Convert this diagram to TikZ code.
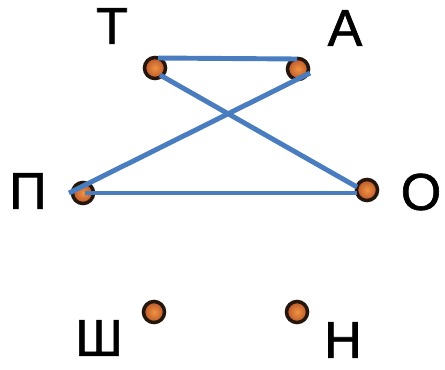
\documentclass[tikz,border=0pt]{standalone}
\usepackage{fontspec}
\setmainfont[FakeBold=1.2]{Liberation Sans}
\definecolor{edgeblue}{HTML}{4A7DC0}
\definecolor{dotfill}{HTML}{B8552A}
\definecolor{dotcore}{HTML}{F09442}
\definecolor{dotrim}{HTML}{24160C}
\tikzset{
  vertex/.style={circle, draw=dotrim, line width=2.5pt, inner sep=0pt,
    minimum size=15pt, inner color=dotcore, outer color=dotfill},
  letter/.style={font=\fontsize{37}{37}\selectfont, inner sep=0pt},
  edge/.style={edgeblue, line width=3.5pt}
}
\begin{document}
\begin{tikzpicture}[x=0.025cm, y=-0.025cm]
    \useasboundingbox (0,0) rectangle (445,369);
    % points
    \node[vertex] (T) at (155,68) {};
    \node[vertex] (A) at (298,69) {};
    \node[vertex] (P) at (83,193) {};
    \node[vertex] (O) at (367,190) {};
    \node[vertex] (Sh) at (154,312) {};
    \node[vertex] (N) at (297,312) {};
    % letters
    \node[letter] (lT) at (112,26) {Т};
    \node[letter] (lA) at (345,28) {А};
    \node[letter] (lP) at (28,191) {П};
    \node[letter] (lO) at (421,192) {О};
    \node[letter] (lSh) at (99,338) {Ш};
    \node[letter] (lN) at (343,340) {Н};
    % blue segments
    \draw[edge] ([shift={(3,-10)}]T.center) -- ([shift={(-1,-10)}]A.center);
    \draw[edge] ([shift={(5,7)}]T.center) -- ([shift={(-10,-3)}]O.center);
    \draw[edge] ([shift={(12,4)}]A.center) -- ([shift={(-14,0)}]P.center);
    \draw[edge] ([shift={(2,0)}]P.center) -- ([shift={(-10,3)}]O.center);
\end{tikzpicture}
\end{document}
